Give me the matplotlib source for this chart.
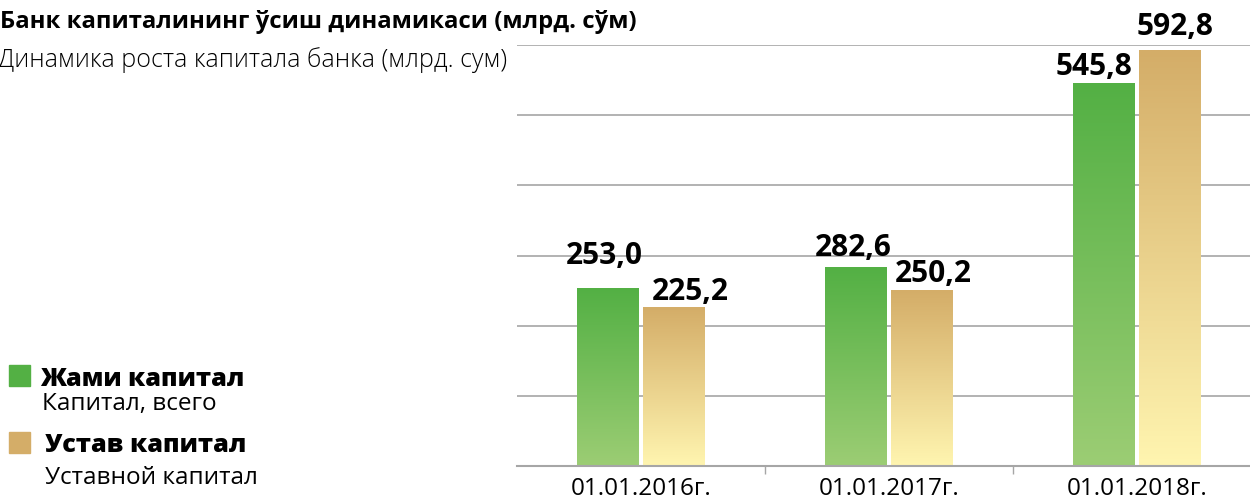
import numpy as np
import matplotlib
matplotlib.use("Agg")
import matplotlib.pyplot as plt
from matplotlib.patches import Rectangle
from matplotlib.colors import LinearSegmentedColormap

plt.rcParams['font.family'] = ['Open Sans', 'DejaVu Sans']

categories = ["01.01.2016г.", "01.01.2017г.", "01.01.2018г."]
total_capital = [253.0, 282.6, 545.8]
charter_capital = [225.2, 250.2, 592.8]
total_labels = ["253,0", "282,6", "545,8"]
charter_labels = ["225,2", "250,2", "592,8"]

title = "Банк капиталининг ўсиш динамикаси (млрд. сўм)"
subtitle = "Динамика роста капитала банка (млрд. сум)"
legend_main = ["Жами капитал", "Устав капитал"]
legend_sub = ["Капитал, всего", "Уставной капитал"]

# label offsets in pixels (dx from bar centre, gap above bar top)
total_off = [(-4, 24), (-3, 12), (-10, 8)]
charter_off = [(16, 8), (11, 8), (5, 15)]

W, H = 1250, 499
fig = plt.figure(figsize=(W / 100, H / 100), dpi=100)
ax = fig.add_axes([517 / W, 1 - 466 / H, (1261 - 517) / W, (466 - 45) / H])

green_cmap = LinearSegmentedColormap.from_list("g", ["#9CCD74", "#53B044"])
tan_cmap = LinearSegmentedColormap.from_list("t", ["#FFF5B0", "#D4AD68"])
grad = np.linspace(0, 1, 256).reshape(-1, 1)

bw = 0.25
off = 0.133
x = np.arange(len(categories))

def grad_bar(xc, h, cmap):
    ax.imshow(grad, extent=(xc - bw / 2, xc + bw / 2, 0, h), origin="lower",
              aspect="auto", cmap=cmap, zorder=3, interpolation="bilinear")

for i in range(len(categories)):
    grad_bar(x[i] - off, total_capital[i], green_cmap)
    grad_bar(x[i] + off, charter_capital[i], tan_cmap)
    ax.annotate(total_labels[i], (x[i] - off, total_capital[i]),
                xytext=total_off[i], textcoords="offset pixels",
                ha="center", va="baseline", fontsize=21.5, fontweight="bold", zorder=5)
    ax.annotate(charter_labels[i], (x[i] + off, charter_capital[i]),
                xytext=charter_off[i], textcoords="offset pixels",
                ha="center", va="baseline", fontsize=21.5, fontweight="bold", zorder=5)

ax.set_xlim(-0.5, 2.5)
ax.set_ylim(0, 600)
ax.set_yticks(np.arange(100, 601, 100))
ax.yaxis.grid(True, color="#A6A6A6", linewidth=1.2)
ax.set_axisbelow(True)
ax.tick_params(axis="y", left=False, labelleft=False)
for s in ["left", "right", "top"]:
    ax.spines[s].set_visible(False)
ax.spines["bottom"].set_color("#A6A6A6")
ax.spines["bottom"].set_linewidth(1.5)
ax.spines["bottom"].set_zorder(6)

ax.set_xticks(x)
ax.set_xticklabels(categories, fontsize=17.5)
ax.set_xticks([0.5, 1.5], minor=True)
ax.tick_params(axis="x", which="major", length=0, pad=8)
ax.tick_params(axis="x", which="minor", length=6, color="#A6A6A6", width=1)

fig.text(0 / W, 1 - 28 / H, title, fontsize=17.2, fontweight="bold", va="baseline", ha="left")
fig.text(-2 / W, 1 - 67 / H, subtitle, fontsize=18, fontweight="light", va="baseline", ha="left")

sq_colors = ["#53B044", "#D4AD68"]
sq_top = [365, 432]
main_x = [40, 45]
main_base = [386, 452]
sub_x = [42, 45]
sub_base = [410, 484]
for i in range(2):
    fig.patches.append(Rectangle((9 / W, 1 - (sq_top[i] + 21) / H), 21 / W, 21 / H,
                                 transform=fig.transFigure, color=sq_colors[i]))
    fig.text(main_x[i] / W, 1 - main_base[i] / H, legend_main[i], fontsize=18.2,
             fontweight="heavy", va="baseline", ha="left")
    fig.text(sub_x[i] / W, 1 - sub_base[i] / H, legend_sub[i], fontsize=17.5,
             va="baseline", ha="left")

fig.savefig("out.png", dpi=100)
